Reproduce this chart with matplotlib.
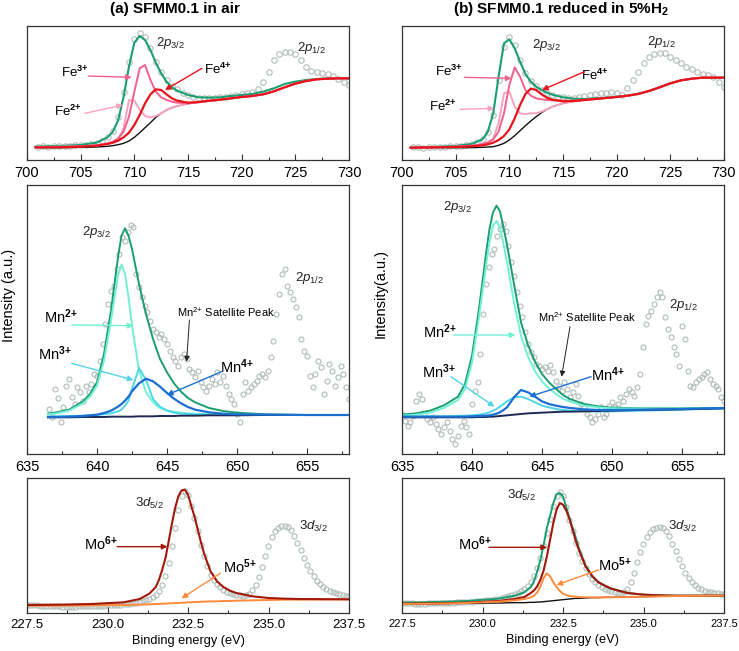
import numpy as np
import matplotlib
matplotlib.use("Agg")
import matplotlib.pyplot as plt
from matplotlib.ticker import MultipleLocator, FormatStrFormatter

plt.rcParams["font.family"] = ["Liberation Sans", "DejaVu Sans"]
plt.rcParams["mathtext.fontset"] = "custom"
plt.rcParams["mathtext.rm"] = "Liberation Sans"
plt.rcParams["mathtext.it"] = "Liberation Sans:italic"
plt.rcParams["mathtext.bf"] = "Liberation Sans:bold"

# ---------------- Fe 2p ----------------
fe_e = [700.8, 703, 705, 706.5, 707.5, 708, 708.5, 709, 709.5, 710, 710.5, 711, 711.5, 712, 712.5,
        713, 713.5, 714, 715, 716, 717, 718, 719, 720, 721, 722, 723, 724, 725, 726, 727, 728, 729, 730]
fe_scan = np.arange(701.0, 730.01, 0.5)  # instrument step 0.5 eV

fea_data = [40, 42, 40, 42, 41, 43, 42, 44, 45, 46, 48, 52, 58, 68, 88, 130, 205, 295, 362, 380,
            368, 335, 295, 265, 240, 222, 212, 202, 195, 190, 187, 185, 187, 187, 190, 190, 192, 195,
            198, 200, 205, 212, 235, 265, 300, 318, 323, 325, 318, 300, 280, 268, 265, 262, 258, 252,
            242, 233, 225]
fea_env = [40, 42, 45, 52, 68, 85, 120, 190, 280, 352, 372, 360, 330, 292, 260, 235, 218, 208, 195,
           188, 187, 188, 192, 195, 198, 205, 215, 228, 235, 240, 243, 245, 245, 245]
fea_bg = [37, 37, 38, 39, 41, 43, 46, 50, 57, 68, 82, 97, 112, 128, 140, 150, 157, 162, 169, 174,
          178, 181, 185, 189, 192, 197, 206, 218, 229, 237, 242, 244, 245, 245]
fea_fe4 = [38, 38, 40, 43, 48, 52, 58, 68, 82, 105, 135, 170, 197, 212, 210, 197, 185, 178, 172, 174,
           178, 181, 185, 189, 192, 197, 206, 218, 229, 237, 242, 244, 245, 245]
fea_fe3 = [38, 39, 41, 44, 50, 55, 65, 85, 130, 205, 275, 285, 240, 205, 188, 180, 175, 172, 170, 173,
           177, 181, 185, 189, 192, 197, 206, 218, 229, 237, 242, 244, 245, 245]
fea_fe2 = [38, 40, 41, 44, 48, 52, 62, 95, 180, 178, 150, 132, 128, 132, 140, 150, 157, 162, 169, 174,
           178, 181, 185, 189, 192, 197, 206, 218, 229, 237, 242, 244, 245, 245]

feb_data = [40, 38, 36, 38, 40, 38, 40, 41, 43, 43, 45, 48, 54, 64, 85, 135, 240, 340, 370, 345,
            300, 262, 238, 222, 210, 200, 195, 190, 188, 186, 185, 188, 192, 195, 198, 200, 202, 203,
            200, 195, 215, 240, 265, 290, 310, 318, 322, 320, 310, 300, 290, 280, 272, 265, 258, 255,
            250, 235, 220]
feb_env = [37, 39, 42, 48, 62, 85, 140, 250, 350, 362, 335, 295, 258, 235, 220, 210, 202, 196, 188,
           184, 183, 185, 187, 190, 193, 199, 207, 218, 230, 239, 244, 247, 247, 247]
feb_bg = [37, 37, 37, 37, 38, 39, 40, 44, 50, 60, 73, 88, 103, 117, 130, 142, 152, 160, 170, 176,
          180, 183, 186, 189, 193, 198, 207, 218, 230, 239, 244, 247, 247, 247]
feb_fe4 = [37, 38, 39, 41, 44, 47, 52, 60, 72, 92, 125, 165, 198, 214, 210, 197, 187, 181, 176, 177,
           180, 183, 186, 189, 193, 198, 207, 218, 230, 239, 244, 247, 247, 247]
feb_fe3 = [37, 38, 40, 43, 48, 53, 62, 85, 140, 225, 278, 250, 210, 193, 185, 182, 180, 179, 178, 178,
           180, 183, 186, 189, 193, 198, 207, 218, 230, 239, 244, 247, 247, 247]
feb_fe2 = [37, 38, 40, 42, 46, 52, 65, 110, 200, 205, 160, 140, 138, 140, 140, 145, 152, 160, 170, 176,
           180, 183, 186, 189, 193, 198, 207, 218, 230, 239, 244, 247, 247, 247]

# ---------------- Mn 2p ----------------
mna_e = [636.5, 637, 638, 639, 639.5, 640, 640.5, 641, 641.5, 641.75, 642, 642.25, 642.5, 643,
         643.5, 644, 644.5, 645, 645.5, 646, 646.5, 647, 648, 649, 650, 652, 655, 658]
mna_scan = np.arange(636.6, 658.01, 0.2)
mna_data = [135, 112, 195, 168, 95, 140, 205, 225, 170, 150, 200, 185, 160, 205, 185, 210, 240, 235,
            280, 330, 390, 450, 490, 505, 555, 600, 650, 640, 665, 688, 680,
            540, 500, 470, 445, 425, 400, 375, 365, 350, 360, 345, 330, 310, 290, 280, 265, 290, 300,
            285, 255, 245, 230, 250, 215, 200, 190, 205, 225, 210, 245, 215, 235, 205, 180, 165, 150,
            120, 95, 180, 215, 190, 200, 210, 220, 235, 240, 230, 250, 290, 340, 420, 480, 540, 555,
            505, 485, 465, 440, 410, 345, 310, 295, 235, 200, 240, 280, 260, 180, 220, 270, 250, 205,
            230, 265, 240, 200, 165]
mna_env = [121, 124, 133, 158, 180, 215, 300, 430, 590, 655, 677, 655, 615, 510, 420, 345, 285, 245,
           212, 187, 168, 155, 138, 129, 124, 119, 117, 117]
mna_mn2 = [119, 121, 130, 152, 172, 205, 280, 400, 537, 568, 540, 470, 387, 250, 185, 155, 138, 131,
           127, 124, 122, 121, 119, 118, 118, 117, 117, 117]
mna_mn3 = [112, 113, 114, 115, 116, 117, 119, 122, 128, 133, 145, 160, 195, 258, 222, 165, 142, 130,
           124, 121, 120, 119, 118, 118, 117, 117, 117, 117]
mna_mn4 = [111, 111, 112, 114, 116, 118, 123, 130, 142, 150, 160, 172, 188, 212, 226, 218, 202, 183,
           166, 152, 141, 133, 125, 121, 119, 118, 117, 117]
mna_bg = [110, 110, 110, 111, 111, 111, 111, 112, 112, 112, 112, 112, 112, 113, 113, 113, 114, 114,
          114, 115, 115, 115, 116, 116, 116, 117, 117, 117]

mnb_e = [635, 636, 637, 638, 639, 639.5, 640, 640.5, 641, 641.25, 641.5, 641.75, 642, 642.25, 642.5,
         643, 643.5, 644, 644.5, 645, 645.5, 646, 646.5, 647, 648, 649, 650, 652, 655, 658]
mnb_scan = np.arange(635.0, 658.01, 0.2)
mnb_data = [120, 100, 85, 95, 115, 160, 180, 165, 120, 105, 95, 110, 90, 75, 60, 80, 95, 70, 45, 30,
            55, 85, 100, 80, 60,
            150, 190, 215, 300, 420, 510, 560, 600, 615, 655, 675, 690, 670, 625, 575, 535, 485, 445,
            410, 365, 330, 305, 290, 270, 265, 255, 262, 250, 268, 245,
            220, 205, 190, 215, 195, 170, 185, 210, 175, 150, 140, 120, 110, 95, 105, 120, 140, 110,
            120, 145, 155, 140, 150, 170, 160, 180, 195, 185, 175, 200,
            240, 320, 390, 415, 430, 450, 470, 485, 470, 410, 375, 350, 320, 300, 265, 385, 345, 250,
            205, 200, 215, 225, 230, 240, 245, 225, 210, 205, 195, 170, 160]
mnb_env = [118, 122, 130, 146, 172, 210, 295, 435, 600, 675, 725, 745, 728, 680, 628, 510, 395, 327,
           277, 240, 215, 195, 177, 165, 150, 143, 139, 137, 137, 138]
mnb_mn2 = [115, 118, 124, 138, 162, 195, 275, 410, 565, 635, 685, 699, 680, 630, 575, 455, 355, 292,
           248, 218, 196, 180, 166, 157, 145, 140, 137, 136, 136, 137]
mnb_mn3 = [112, 112, 113, 113, 114, 115, 116, 118, 122, 125, 130, 135, 142, 150, 158, 170, 172, 165,
           155, 145, 140, 135, 132, 130, 128, 128, 128, 130, 133, 137]
mnb_mn4 = [112, 112, 112, 112, 112, 112, 113, 114, 115, 116, 118, 121, 125, 132, 140, 170, 192, 185,
           172, 158, 150, 145, 141, 138, 134, 132, 132, 133, 135, 138]
mnb_bg = [110, 110, 110, 110, 110, 110, 110, 111, 111, 112, 112, 113, 114, 115, 116, 118, 120, 122,
          123, 124, 125, 126, 127, 127, 128, 129, 130, 132, 134, 137]

# ---------------- Mo 3d ----------------
mo_e = [227.5, 228.5, 229.5, 230.5, 231.0, 231.3, 231.5, 231.6, 231.7, 231.8, 231.9, 232.0, 232.1,
        232.2, 232.3, 232.4, 232.5, 232.6, 232.7, 232.8, 232.9, 233.0, 233.2, 233.4, 233.6, 233.8,
        234.0, 234.5, 235.0, 235.5, 236.0, 237.5]
mo_scan = np.arange(227.5, 237.51, 0.1)

moa_data = [24, 24, 23, 23, 22, 22, 21, 21, 20, 20, 20, 19, 19, 19, 19, 19, 20, 20, 20, 20, 21, 21,
            21, 22, 22,
            23, 23, 24, 24, 25, 26, 27, 28, 29, 31, 33,
            35, 38, 42, 48, 55, 66, 85, 112, 150, 200, 255, 310, 350, 365, 355, 320, 285, 245, 205,
            170, 140, 115, 98, 86, 77, 70, 64, 60, 57, 55, 53, 52, 53, 58, 68, 85, 108, 138, 170,
            202, 228, 246, 256, 261, 262, 258, 248, 232, 210, 188, 165, 145, 126, 110, 97, 86, 78,
            72, 67, 63, 59, 56, 54, 52, 51]
moa_mo6 = [24, 25, 27, 32, 42, 58, 78, 100, 130, 165, 215, 268, 315, 350, 368, 370, 355, 322, 290,
           252, 213, 178, 125, 95, 78, 67, 60, 50, 45, 43, 42, 41]
moa_mo5 = [22, 22, 23, 24, 25, 26, 27, 27, 28, 28, 29, 29, 30, 30, 31, 31, 32, 32, 33, 33, 34, 34,
           35, 35, 36, 36, 37, 38, 39, 40, 40, 41]

mob_data = [30, 30, 29, 29, 28, 28, 28, 28, 29, 29, 29, 30, 30, 30, 31, 31, 31, 32, 32, 33, 33, 34,
            34, 35, 36, 37,
            38, 39, 40, 41, 43, 45, 47, 50, 53, 57, 61, 66, 72, 80, 92, 110, 135, 165, 200, 240,
            282, 322, 352, 364, 352, 318, 280, 245, 210, 180, 155, 135, 117, 103, 92, 84, 77, 72,
            68, 65, 62, 60, 60, 62, 72, 92, 120, 152, 182, 208, 228, 242, 251, 256, 258, 255, 246,
            230, 208, 185, 162, 140, 120, 104, 92, 83, 76, 71, 67, 64, 62, 60, 59, 58, 57]
mob_env = [31, 33, 36, 43, 52, 62, 78, 95, 125, 160, 205, 255, 292, 330, 356, 360, 350, 318, 285,
           255, 225, 192, 142, 110, 93, 82, 73, 60, 55, 53, 52, 52]
mob_mo6 = [28, 29, 31, 36, 42, 48, 60, 68, 80, 100, 128, 170, 220, 270, 310, 330, 325, 308, 282,
           250, 215, 188, 140, 112, 92, 82, 73, 60, 55, 53, 52, 52]
mob_mo5 = [27, 28, 30, 34, 38, 42, 47, 52, 62, 80, 105, 119, 110, 92, 78, 66, 58, 54, 51, 50, 49,
           48, 47, 47, 47, 47, 47, 48, 49, 50, 51, 52]
mob_bg = [27, 28, 29, 30, 31, 31, 32, 32, 33, 33, 34, 35, 36, 37, 38, 39, 40, 41, 42, 43, 44, 44,
          45, 46, 46, 47, 47, 48, 49, 50, 51, 52]

# colours
C_DATA = "#b0bcb8"
C_ENV = "#1a9e70"
C_BG = "#111111"
C_FE4 = "#e8141c"
C_FE3 = "#f2608c"
C_FE2 = "#f7a3bd"
C_MN2 = "#72f0d6"
C_MN3 = "#4fd6e6"
C_MN4 = "#1b6fd2"
C_MNBG = "#1e2a55"
C_MO6 = "#a2180a"
C_MO5 = "#ff8a3c"

W, H = 739, 651
fig = plt.figure(figsize=(W / 100, H / 100), dpi=100)


def panel(x0, y0, x1, y1):
    return fig.add_axes([x0 / W, 1 - y1 / H, (x1 - x0) / W, (y1 - y0) / H])


def style(ax, xlim, ylim, major, minor, fmt="%d", lsize=10.5):
    ax.set_xlim(*xlim)
    ax.set_ylim(*ylim)
    ax.set_yticks([])
    ax.xaxis.set_major_locator(MultipleLocator(major))
    ax.xaxis.set_minor_locator(MultipleLocator(minor))
    ax.xaxis.set_major_formatter(FormatStrFormatter(fmt))
    ax.tick_params(axis="x", which="major", direction="in", length=4, width=0.8,
                   labelsize=lsize, pad=4, color="#333333")
    ax.tick_params(axis="x", which="minor", direction="in", length=2.5, width=0.8,
                   color="#333333")
    for sp in ax.spines.values():
        sp.set_linewidth(0.9)
        sp.set_color("#333333")


def scan(ax, e, v, ms=3.6):
    ax.plot(e, v, "o", mfc="none", mec=C_DATA, ms=ms, mew=0.8, zorder=1)


def tag(ax, s, at, start, tip, color, size=10, alw=1.0):
    ax.text(at[0], at[1], s, ha="center", va="center", fontsize=size)
    ax.annotate("", xy=tip, xytext=start,
                arrowprops=dict(arrowstyle="-|>", color=color, lw=alw,
                                mutation_scale=8, shrinkA=0, shrinkB=0))


def orb(ax, s, at, size=9.5):
    ax.text(at[0], at[1], s, ha="center", va="center", fontsize=size, color="#222222")


def ion(el, charge, bold=True):
    if bold:
        return el + r"$^{\mathbf{" + charge[0] + "{+}}}$"
    return el + r"$^{" + charge[0] + "{+}}$"


# ---- Fe panels ----
for col, (data, env, bg, f4, f3, f2) in enumerate([
        (fea_data, fea_env, fea_bg, fea_fe4, fea_fe3, fea_fe2),
        (feb_data, feb_env, feb_bg, feb_fe4, feb_fe3, feb_fe2)]):
    x0 = 27 if col == 0 else 402
    ax = panel(x0, 26, x0 + 322, 160)
    scan(ax, fe_scan, data, ms=3.9)
    ax.plot(fe_e, env, color=C_ENV, lw=1.5)
    ax.plot(fe_e, bg, color=C_BG, lw=1.0)
    ax.plot(fe_e, f2, color=C_FE2, lw=1.4)
    ax.plot(fe_e, f3, color=C_FE3, lw=1.4)
    ax.plot(fe_e, f4, color=C_FE4, lw=1.6)
    style(ax, (700, 730), (0, 402), 5, 2.5)
    if col == 0:
        orb(ax, r"$\mathit{2p_{3/2}}$", (713.4, 350))
        orb(ax, r"$\mathit{2p_{1/2}}$", (726.5, 335))
        tag(ax, ion("Fe", "3+"), (704.5, 262), (705.7, 252), (709.75, 248), C_FE3, 9.5)
        tag(ax, ion("Fe", "2+"), (703.8, 145), (705.4, 140), (708.95, 165), C_FE2, 9.5)
        tag(ax, ion("Fe", "4+"), (717.8, 272), (716.3, 275), (712.85, 210), C_FE4, 9.5)
    else:
        orb(ax, r"$\mathit{2p_{3/2}}$", (713.5, 345))
        orb(ax, r"$\mathit{2p_{1/2}}$", (724.2, 355))
        tag(ax, ion("Fe", "3+"), (704.4, 265), (705.8, 248), (710.2, 245), C_FE3, 9.5)
        tag(ax, ion("Fe", "2+"), (703.8, 160), (705.4, 152), (708.6, 155), C_FE2, 9.5)
        tag(ax, ion("Fe", "4+"), (718.0, 255), (717.0, 265), (713.05, 210), C_FE4, 9.5)

# ---- Mn panels ----
for col, (se, data, ce, env, m2, m3, m4, bg) in enumerate([
        (mna_scan, mna_data, mna_e, mna_env, mna_mn2, mna_mn3, mna_mn4, mna_bg),
        (mnb_scan, mnb_data, mnb_e, mnb_env, mnb_mn2, mnb_mn3, mnb_mn4, mnb_bg)]):
    x0 = 27 if col == 0 else 402
    ax = panel(x0, 185, x0 + 322, 454)
    scan(ax, se, data, ms=3.6)
    ax.plot(ce, env, color=C_ENV, lw=1.4)
    ax.plot(ce, m2, color=C_MN2, lw=1.4)
    ax.plot(ce, m3, color=C_MN3, lw=1.4)
    ax.plot(ce, bg, color=C_MNBG, lw=1.4)
    ax.plot(ce, m4, color=C_MN4, lw=1.6)
    style(ax, (635, 658), (0, 807), 5, 2.5)
    sat = ion("Mn", "2+", bold=False) + " Satellite Peak"
    if col == 0:
        orb(ax, r"$\mathit{2p_{3/2}}$", (640.0, 667))
        orb(ax, r"$\mathit{2p_{1/2}}$", (655.2, 527))
        tag(ax, ion("Mn", "2+"), (637.4, 412), (638.2, 387), (642.6, 385), C_MN2, 10.5)
        tag(ax, ion("Mn", "3+"), (637.0, 302), (638.2, 272), (642.6, 222), C_MN3, 10.5)
        tag(ax, ion("Mn", "4+"), (650.0, 262), (648.9, 247), (645.0, 177), C_MN4, 10.5)
        tag(ax, sat, (649.2, 427), (646.6, 402), (646.4, 277), "#222222", 8, alw=0.7)
    else:
        orb(ax, r"$\mathit{2p_{3/2}}$", (639.0, 742))
        orb(ax, r"$\mathit{2p_{1/2}}$", (655.1, 447))
        tag(ax, ion("Mn", "2+"), (637.7, 367), (638.7, 357), (643.1, 357), C_MN2, 10.5)
        tag(ax, ion("Mn", "3+"), (637.6, 247), (638.5, 232), (641.6, 142), C_MN3, 10.5)
        tag(ax, ion("Mn", "4+"), (649.7, 237), (648.5, 232), (644.1, 172), C_MN4, 10.5)
        tag(ax, sat, (648.2, 412), (647.0, 382), (646.4, 232), "#222222", 8, alw=0.7)

# ---- Mo panels ----
ax = panel(27, 478, 349, 613)
scan(ax, mo_scan, moa_data, ms=3.7)
ax.plot(mo_e, moa_mo5, color=C_MO5, lw=1.4)
ax.plot(mo_e, moa_mo6, color=C_MO6, lw=1.5)
style(ax, (227.5, 237.5), (0, 405), 2.5, 1.25, fmt="%.1f", lsize=9.5)
orb(ax, r"$\mathit{3d_{5/2}}$", (231.3, 329))
orb(ax, r"$\mathit{3d_{3/2}}$", (236.4, 259))
tag(ax, ion("Mo", "6+"), (229.8, 209), (230.3, 199), (231.86, 199), C_MO6, 10.5)
tag(ax, ion("Mo", "5+"), (234.1, 139), (233.5, 119), (232.3, 44), C_MO5, 10.5)
ax.set_xlabel("Binding energy (eV)", fontsize=9.2, labelpad=3)

ax = panel(402, 478, 724, 613)
scan(ax, mo_scan, mob_data, ms=3.7)
ax.plot(mo_e, mob_env, color=C_ENV, lw=1.4)
ax.plot(mo_e, mob_mo6, color=C_MO6, lw=1.5)
ax.plot(mo_e, mob_bg, color=C_BG, lw=1.0)
ax.plot(mo_e, mob_mo5, color=C_MO5, lw=1.4)
style(ax, (227.5, 237.5), (0, 405), 2.5, 1.25, fmt="%.1f", lsize=8)
orb(ax, r"$\mathit{3d_{5/2}}$", (231.2, 354))
orb(ax, r"$\mathit{3d_{3/2}}$", (236.2, 259))
tag(ax, ion("Mo", "6+"), (229.75, 209), (230.2, 197), (232.0, 197), C_MO6, 10.5)
tag(ax, ion("Mo", "5+"), (234.1, 144), (233.6, 129), (232.3, 84), C_MO5, 10.5)
ax.set_xlabel("Binding energy (eV)", fontsize=9.2, labelpad=4)

# titles and y labels
fig.text(175 / W, 1 - 9 / H, "(a) SFMM0.1 in air", ha="center", va="center",
         fontsize=11, fontweight="bold")
fig.text(561 / W, 1 - 9 / H, r"(b) SFMM0.1 reduced in 5%H$_{\mathbf{2}}$", ha="center",
         va="center", fontsize=11, fontweight="bold")
fig.text(9 / W, 1 - 295 / H, "Intensity (a.u.)", rotation=90, ha="center", va="center",
         fontsize=10.5)
fig.text(381 / W, 1 - 294 / H, "Intensity(a.u.)", rotation=90, ha="center", va="center",
         fontsize=10.5)

fig.savefig("out.png", dpi=100)
